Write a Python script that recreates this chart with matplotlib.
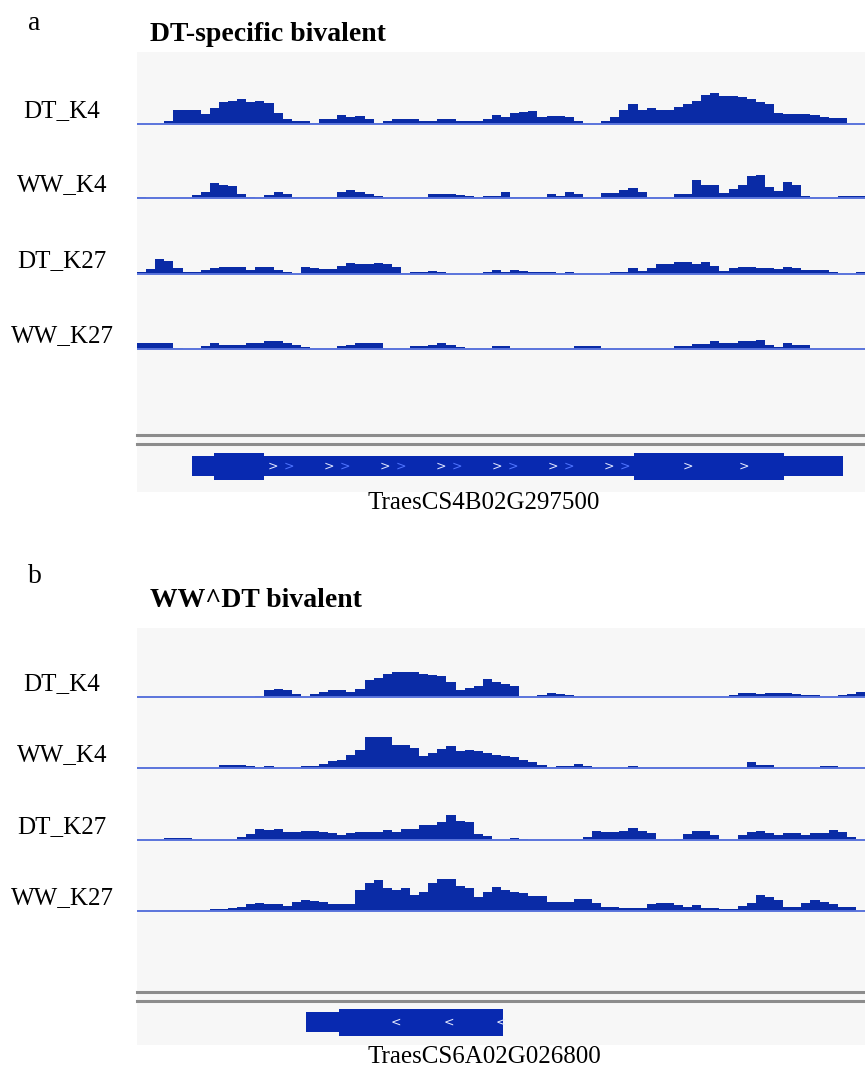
import numpy as np
import matplotlib.pyplot as plt
from matplotlib.patches import Rectangle

# =========================
# data: coverage per bin (80 bins across the locus window)
# =========================
tracks = ["DT_K4", "WW_K4", "DT_K27", "WW_K27"]

a_dt_k4 = [0, 0, 0, 3, 14, 14, 14, 10, 16, 22, 23, 25, 22, 23, 21, 11, 5, 3, 3, 1,
           5, 5, 9, 7, 8, 5, 1, 3, 5, 5, 5, 3, 3, 5, 5, 3, 3, 3, 5, 9,
           7, 11, 12, 13, 7, 8, 8, 7, 3, 0, 0, 3, 7, 14, 20, 14, 16, 14, 14, 17,
           20, 23, 29, 31, 28, 28, 27, 25, 22, 20, 11, 10, 10, 10, 9, 7, 6, 6, 0, 0]
a_ww_k4 = [1, 0, 0, 0, 0, 0, 3, 6, 15, 13, 12, 4, 1, 0, 3, 6, 4, 1, 1, 1,
           1, 1, 6, 8, 6, 4, 2, 0, 0, 0, 0, 0, 4, 4, 4, 3, 2, 1, 2, 2,
           6, 1, 1, 1, 1, 4, 2, 6, 4, 1, 1, 5, 5, 8, 10, 6, 0, 0, 0, 4,
           4, 18, 13, 13, 5, 9, 13, 22, 23, 11, 7, 16, 13, 2, 0, 0, 0, 2, 2, 2]
a_dt_k27 = [2, 5, 15, 13, 6, 2, 2, 4, 6, 7, 7, 7, 4, 7, 7, 4, 2, 0, 7, 6,
            5, 5, 8, 11, 10, 10, 11, 10, 7, 1, 2, 2, 3, 2, 0, 0, 0, 0, 2, 4,
            2, 4, 3, 2, 2, 2, 1.5, 2, 0, 0, 0, 0, 2, 2, 6, 3, 6, 10, 10, 12,
            12, 10, 12, 8, 3, 6, 7, 7, 6, 6, 5, 7, 6, 4, 4, 4, 2, 0, 0, 2]
a_ww_k27 = [6, 6, 6, 6, 1, 0, 0, 3, 6, 4, 4, 4, 6, 6, 8, 8, 6, 4, 2, 0,
            0, 0, 3, 4, 6, 6, 6, 0, 0, 0, 3, 3, 4, 6, 4, 2, 0, 0, 0, 3,
            3, 0, 0, 0, 0, 0, 0, 0, 3, 3, 3, 0, 0, 0, 0, 0, 0, 0, 0, 3,
            3, 5, 5, 8, 6, 6, 8, 8, 9, 4, 2, 6, 4, 4, 0, 0, 0, 0, 0, 0]

b_dt_k4 = [0, 0, 0, 0, 0, 0, 0, 0, 0, 0, 0, 0, 0, 1, 7, 8, 7, 3, 0, 3,
           5, 7, 7, 5, 8, 17, 19, 23, 25, 25, 25, 23, 22, 21, 15, 7, 9, 11, 18, 15,
           13, 11, 0, 0, 2, 4, 3, 2, 0, 0, 0, 0, 0, 0, 0, 0, 0, 0, 0, 0,
           0, 0, 0, 0, 0, 2, 4, 4, 3, 4, 4, 4, 3, 2, 2, 0, 0, 2, 3, 5]
b_ww_k4 = [0, 0, 0, 0, 0, 0, 0, 0, 0, 3, 3, 3, 2, 1, 2, 0, 0, 0, 2, 2,
           4, 7, 8, 13, 18, 31, 31, 31, 23, 23, 20, 12, 15, 19, 22, 17, 18, 17, 15, 13,
           12, 11, 8, 6, 3, 1, 2, 2, 4, 2, 0, 0, 0, 0, 2, 0, 0, 0, 0, 0,
           0, 0, 0, 0, 0, 0, 0.5, 6, 3, 3, 0, 0, 0, 0, 0, 2, 2, 0, 0, 0]
b_dt_k27 = [0, 0, 0, 2, 2, 2, 0, 0, 0, 0, 0, 3, 6, 11, 10, 11, 8, 8, 9, 9,
            8, 7, 5, 7, 8, 8, 8, 10, 8, 11, 11, 15, 15, 18, 25, 19, 18, 6, 4, 0,
            0, 2, 1.5, 0, 0, 0, 0, 0, 0, 3, 9, 8, 8, 9, 12, 9, 7, 0, 0, 1,
            6, 9, 9, 5, 0, 0, 5, 8, 9, 7, 5, 7, 7, 5, 7, 7, 10, 8, 3, 0]
b_ww_k27 = [0, 0, 0, 0, 0, 0, 0, 0, 2, 2, 3, 4, 7, 8, 7, 7, 5, 9, 11, 10,
            9, 7, 7, 7, 21, 28, 31, 23, 21, 23, 16, 19, 28, 32, 32, 25, 23, 14, 19, 24,
            21, 19, 18, 15, 15, 9, 9, 9, 12, 12, 8, 4, 4, 3, 3, 3, 7, 8, 8, 6,
            4, 6, 3, 3, 2, 2, 5, 8, 16, 14, 11, 4, 4, 8, 11, 9, 7, 4, 4, 0]

panel_a = [a_dt_k4, a_ww_k4, a_dt_k27, a_ww_k27]
panel_b = [b_dt_k4, b_ww_k4, b_dt_k27, b_ww_k27]

# gene models (same bin units as the tracks)
gene_a_span = (6.0, 77.6)
gene_a_cds = [(8.5, 14.0), (54.6, 71.1)]
gene_a_name = "TraesCS4B02G297500"
gene_b_span = (18.6, 40.2)
gene_b_cds = [(22.2, 40.2)]
gene_b_name = "TraesCS6A02G026800"

# =========================
# styling / layout (pixels, top-left origin)
# =========================
W, H = 865, 1071
FILL = "#0a2ba6"
GENE = "#0829b0"
BASE = "#5a74dc"
BG = "#f7f7f7"
plt.rcParams["font.family"] = ["Liberation Serif", "DejaVu Serif"]

fig = plt.figure(figsize=(W / 100, H / 100), dpi=100)
fig.patch.set_facecolor("white")


def px_axes(x0, y0, x1, y1):
    return fig.add_axes([x0 / W, 1 - y1 / H, (x1 - x0) / W, (y1 - y0) / H])


def draw_panel(letter, letter_y, title, title_y, top, bottom, baselines, data,
               lines_y, gene_y, span, cds, name, arrow, label_y, chev):
    # background
    bg = px_axes(137, top, 865, bottom)
    bg.set_facecolor(BG)
    bg.set_xticks([]); bg.set_yticks([])
    for s in bg.spines.values():
        s.set_visible(False)

    fig.text(28 / W, 1 - letter_y / H, letter, fontsize=20, ha="left", va="baseline")
    fig.text(150 / W, 1 - title_y / H, title, fontsize=20, fontweight="bold",
             ha="left", va="baseline")

    edges = np.arange(81)
    for name_t, yb, vals in zip(tracks, baselines, data):
        ax = px_axes(137, yb - 40, 865, yb + 1.5)
        ax.stairs(vals, edges, fill=True, color=FILL, linewidth=0)
        ax.axhline(0, color=BASE, lw=1.4)
        ax.set_xlim(0, 80)
        ax.set_ylim(-1.5, 40)
        ax.axis("off")
        fig.text(62 / W, 1 - (yb - 7) / H, name_t, fontsize=18, ha="center",
                 va="baseline")

    # double separator line
    for ly in lines_y:
        fig.add_artist(plt.Line2D([137 / W, 1], [1 - ly / H] * 2, color="#8c8c8c", lw=2.2))

    # gene model
    gx = px_axes(137, gene_y - 16, 865, gene_y + 16)
    gx.set_xlim(0, 80)
    gx.set_ylim(-16, 16)
    gx.axis("off")
    gx.add_patch(Rectangle((span[0], -10), span[1] - span[0], 20, color=GENE, lw=0))
    for c0, c1 in cds:
        gx.add_patch(Rectangle((c0, -13.5), c1 - c0, 27, color=GENE, lw=0))
    for cx, col in chev:
        gx.text(cx, 0, arrow, color=col, fontsize=9, ha="center", va="center",
                family="DejaVu Sans")
    fig.text(484 / W, 1 - label_y / H, name, fontsize=18, ha="center", va="center")


chev_a = []
for x in np.arange(14.9, 54, 6.15):
    chev_a += [(x, "#dfe5ff"), (x + 1.8, "#4f74ff")]
chev_a += [(60.5, "#e6ebff"), (66.7, "#e6ebff")]
chev_b = [(28.4, "#e6ebff"), (34.3, "#e6ebff"), (40.0, "#e6ebff")]

draw_panel("a", 30, "DT-specific bivalent", 41, 52, 492, [124, 198, 274, 349],
           panel_a, [435, 444], 466, gene_a_span, gene_a_cds, gene_a_name, ">",
           503, chev_a)
draw_panel("b", 583, "WW^DT bivalent", 607, 628, 1045, [697, 768, 840, 911],
           panel_b, [992, 1001], 1022, gene_b_span, gene_b_cds, gene_b_name, "<",
           1057, chev_b)

fig.savefig("out.png", dpi=100)
